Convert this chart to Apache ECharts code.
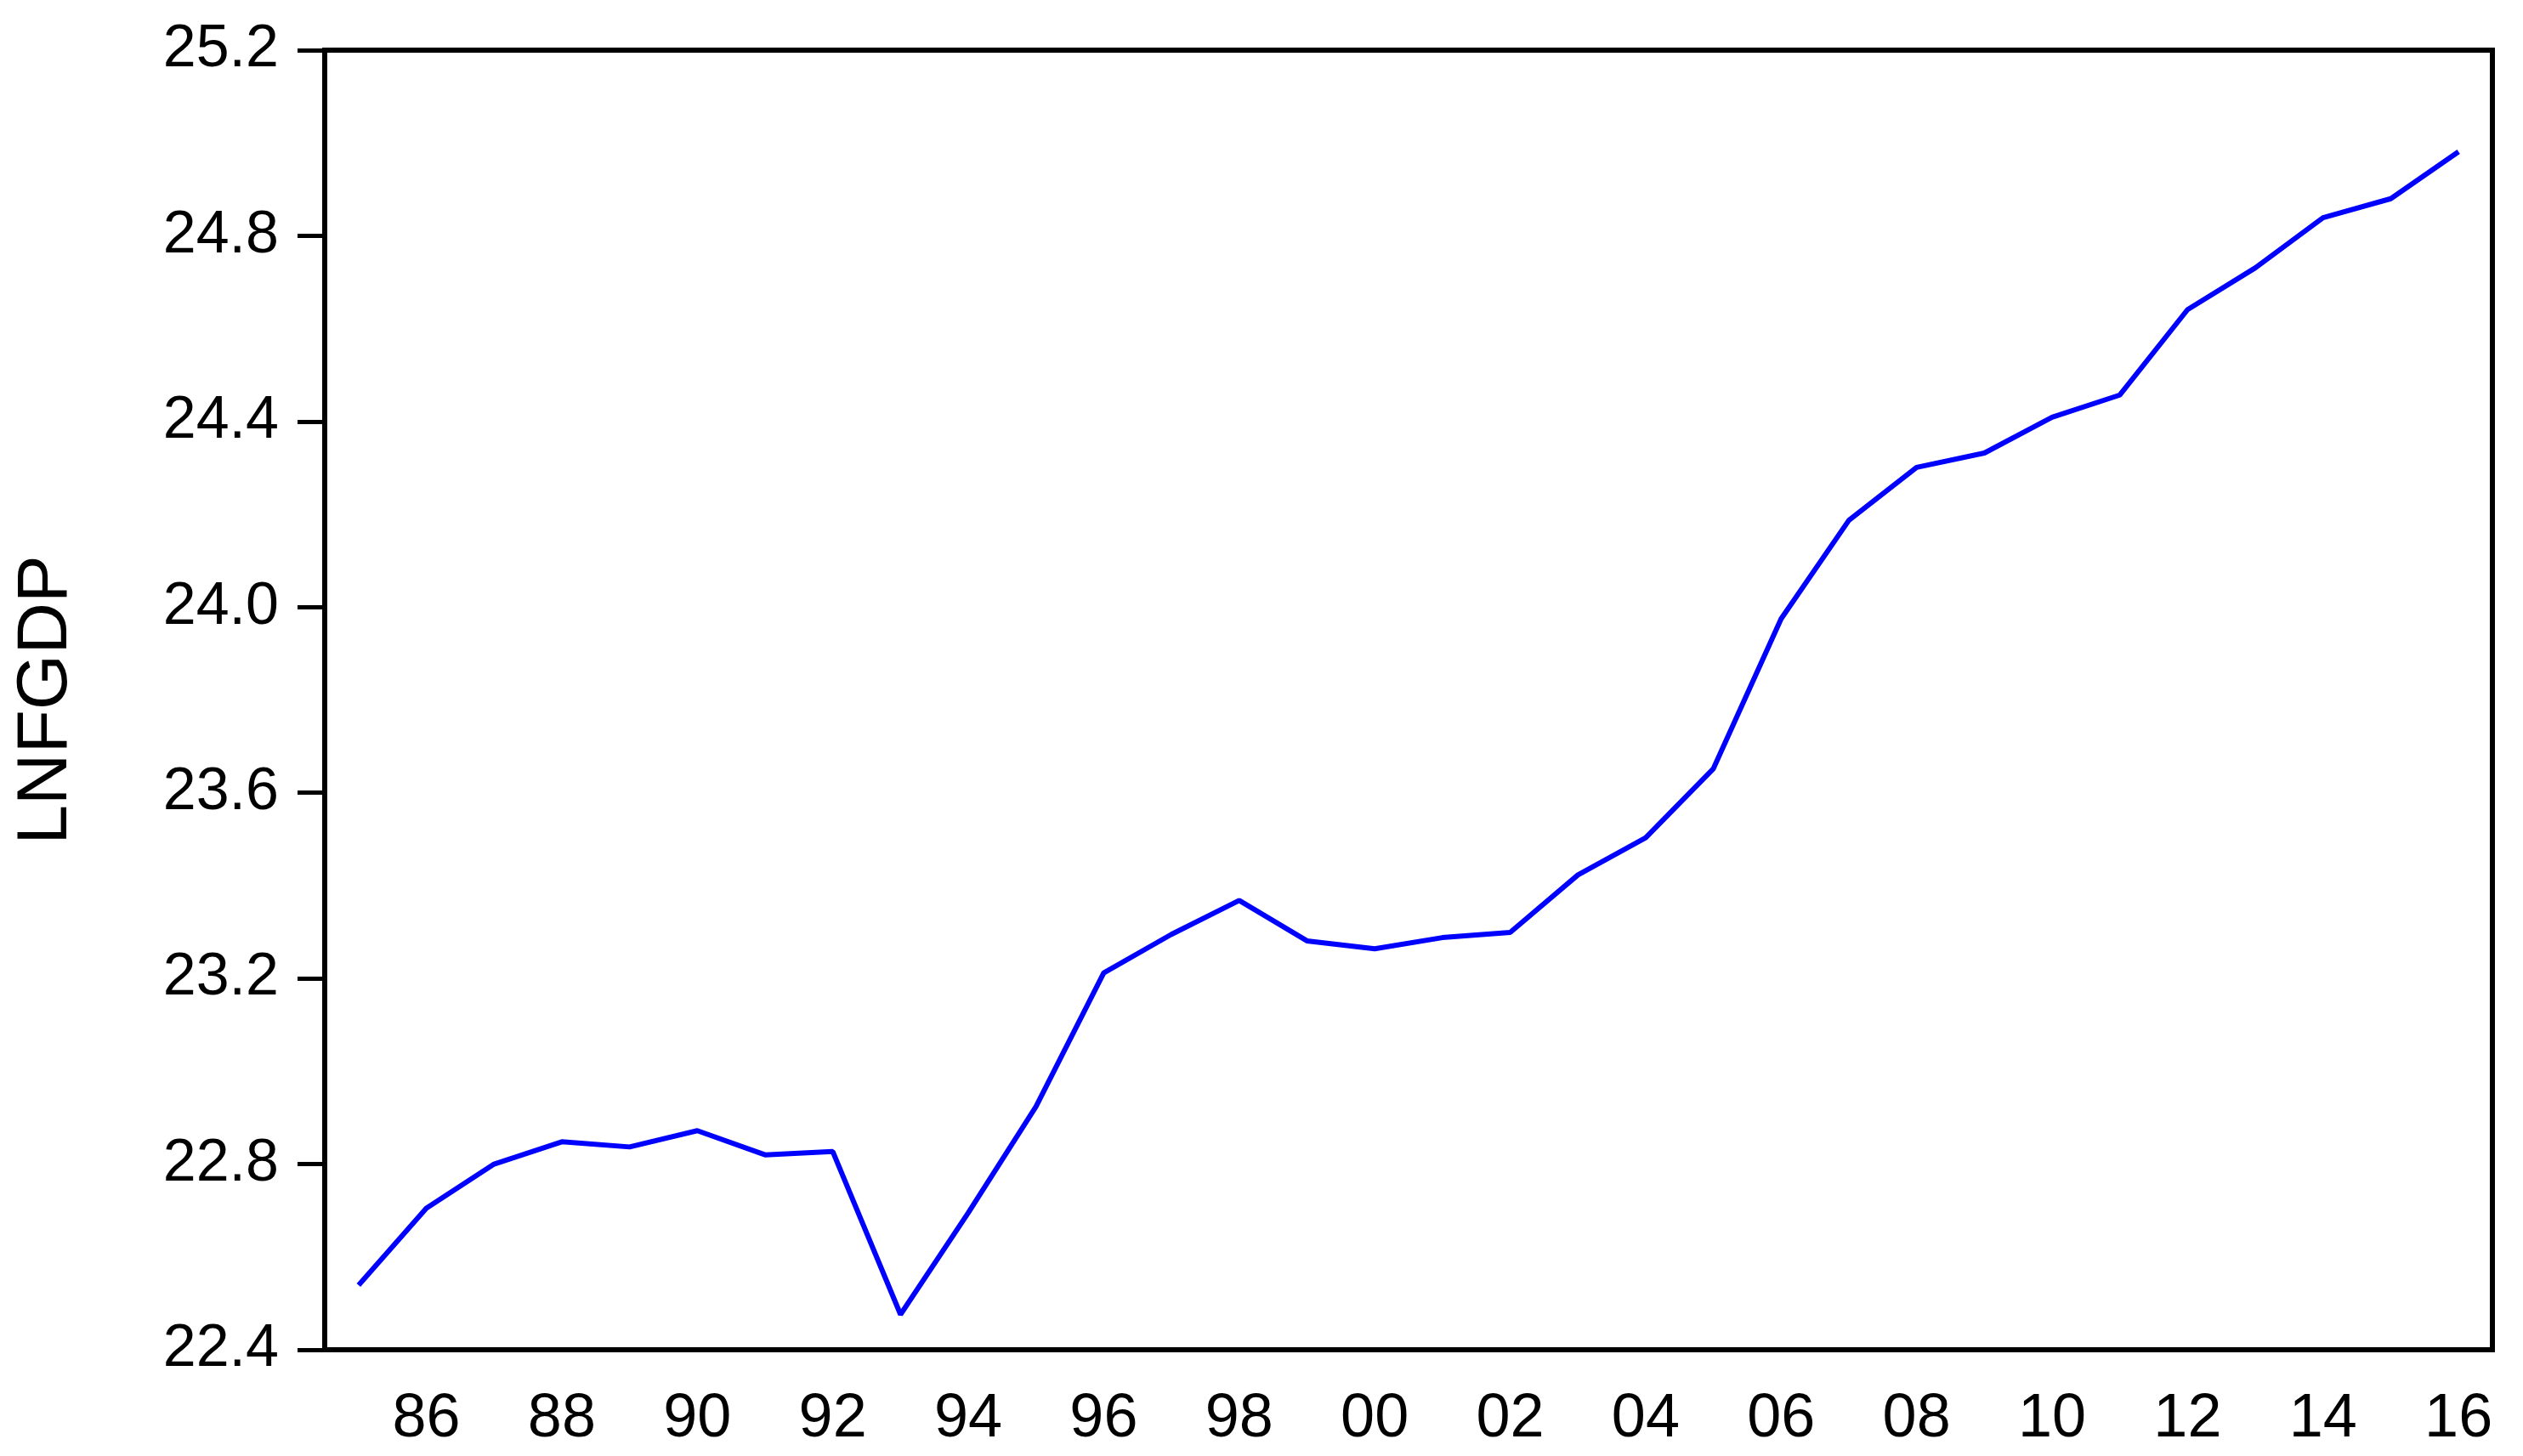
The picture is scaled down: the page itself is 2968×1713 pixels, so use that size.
<!DOCTYPE html>
<html lang="en">
<head>
    <meta charset="UTF-8">
    <title>LNFGDP</title>
    <script type="text/javascript" src="https://cdn.jsdelivr.net/npm/echarts@6/dist/echarts.min.js"></script>
    <style>
        html, body { margin: 0; padding: 0; background: #fff; }
    </style>
</head>
<body>
<div id="main" style="width: 2968px;height:1713px"></div>

<script type="text/javascript">
    // years 1985..2016, shown as two-digit labels
    var years = ['85','86','87','88','89','90','91','92','93','94','95','96','97','98','99','00',
                 '01','02','03','04','05','06','07','08','09','10','11','12','13','14','15','16'];
    var lnfgdp = [22.539, 22.705, 22.800, 22.848, 22.837, 22.872, 22.820, 22.827, 22.476, 22.695,
                  22.924, 23.212, 23.295, 23.368, 23.281, 23.264, 23.288, 23.299, 23.423, 23.503,
                  23.652, 23.975, 24.187, 24.301, 24.332, 24.409, 24.457, 24.641, 24.731, 24.839,
                  24.880, 24.981];
    var yMin = 22.4, yMax = 25.2, yStep = 0.4;

    var chartDom = document.getElementById('main');
    var myChart = echarts.init(chartDom);
    var font = '"Liberation Sans", Arial, sans-serif';

    var option = {
        animation: false,
        backgroundColor: '#ffffff',
        grid: {
            left: 382, right: 36, top: 59, bottom: 125,
            show: true,
            borderColor: '#000',
            borderWidth: 6
        },
        xAxis: {
            type: 'category',
            data: years,
            boundaryGap: true,
            axisLine: { lineStyle: { color: '#000', width: 6 } },
            axisTick: { interval: 0, length: 32, lineStyle: { color: '#000', width: 5 } },
            axisLabel: {
                interval: function (index) { return index % 2 === 1; },
                color: '#000',
                fontFamily: font,
                fontSize: 72,
                margin: 46
            },
            splitLine: { show: false }
        },
        yAxis: {
            type: 'value',
            name: 'LNFGDP',
            nameLocation: 'middle',
            nameGap: 285,
            nameTextStyle: { color: '#000', fontFamily: font, fontSize: 84 },
            min: yMin,
            max: yMax,
            interval: yStep,
            axisLine: { show: true, lineStyle: { color: '#000', width: 6 } },
            axisTick: { show: true, length: 32, lineStyle: { color: '#000', width: 5 } },
            axisLabel: {
                color: '#000',
                fontFamily: font,
                fontSize: 70,
                margin: 54,
                formatter: function (v) { return v.toFixed(1); }
            },
            splitLine: { show: false }
        },
        series: [
            {
                type: 'line',
                data: lnfgdp,
                showSymbol: false,
                symbol: 'none',
                lineStyle: { color: '#0000ff', width: 6 }
            }
        ]
    };

    option && myChart.setOption(option);
</script>
</body>
</html>
